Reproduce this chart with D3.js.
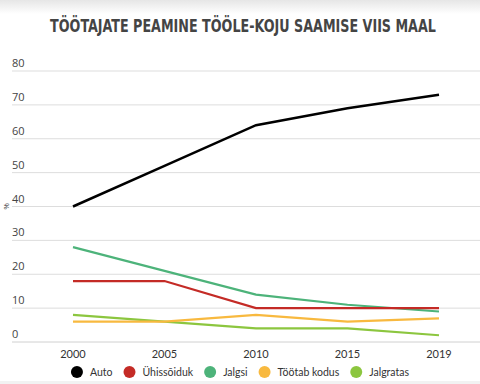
<!DOCTYPE html>
<html>
<head>
<meta charset="utf-8">
<script src="https://cdn.jsdelivr.net/npm/d3@7"></script>
<style>
  body { margin: 0; background: #fff; }
  svg { display: block; font-family: "Open Sans", sans-serif; }
</style>
</head>
<body>
<svg width="480" height="384"></svg>
<script>
"use strict";
const years = ["2000", "2005", "2010", "2015", "2019"];
const seriesNames = ["Auto", "Ühissõiduk", "Jalgsi", "Töötab kodus", "Jalgratas"];
const colors = ["#000000", "#c42b26", "#4db37a", "#f8b93f", "#8cc63f"];
const auto = [40, 52, 64, 69, 73];
const yhissoiduk = [18, 18, 10, 10, 10];
const jalgsi = [28, 21, 14, 11, 9];
const kodus = [6, 6, 8, 6, 7];
const jalgratas = [8, 6, 4, 4, 2];
const yTicks = [0, 10, 20, 30, 40, 50, 60, 70, 80];

const allSeries = [auto, yhissoiduk, jalgsi, kodus, jalgratas];

let svg = d3.select("svg"),
    width = +svg.attr("width"),
    height = +svg.attr("height");

// faint shading at top and bottom
let defs = svg.append("defs");
let grTop = defs.append("linearGradient").attr("id", "gt").attr("x1", 0).attr("y1", 0).attr("x2", 0).attr("y2", 1);
grTop.append("stop").attr("offset", "0%").attr("stop-color", "#e6e6e6");
grTop.append("stop").attr("offset", "100%").attr("stop-color", "#ffffff");
svg.append("rect").attr("width", width).attr("height", 14).attr("fill", "url(#gt)");
svg.append("rect").attr("y", 381).attr("width", width).attr("height", 3).attr("fill", "#f2f2f2");

let title = svg.append("text")
    .attr("x", 0).attr("y", 0)
    .attr("text-anchor", "middle")
    .style("font-family", "'DejaVu Sans Condensed', 'Roboto', sans-serif")
    .style("font-weight", "bold")
    .style("font-size", "18px")
    .style("fill", "#444")
    .text("TÖÖTAJATE PEAMINE TÖÖLE-KOJU SAAMISE VIIS MAAL");
// shrink to the width the title takes in the picture, stretch it taller
let tw = title.node().getComputedTextLength();
let fs = tw > 386 ? 18 * 386 / tw : 18;
title.style("font-size", fs + "px")
    .attr("transform", "translate(243,31.5) scale(1," + (17.5 / fs) + ")");

let x = d3.scalePoint().domain(years).range([73, 439]);
let y = d3.scaleLinear().domain([0, 80]).range([342, 71]);

// grid + y labels
let grid = svg.append("g");
grid.selectAll("line").data(yTicks).enter().append("line")
    .attr("x1", 12).attr("x2", width)
    .attr("y1", d => y(d)).attr("y2", d => y(d))
    .attr("stroke", d => d === 0 ? "#d0d0d0" : "#dddddd")
    .attr("stroke-width", 1);
grid.selectAll("text").data(yTicks).enter().append("text")
    .attr("x", 12).attr("y", d => y(d) - 4)
    .style("font-size", "11px").style("fill", "#444")
    .text(d => d);

svg.append("text")
    .attr("transform", "translate(9," + y(40) + ") rotate(-90)")
    .attr("text-anchor", "middle")
    .style("font-size", "8px").style("fill", "#444")
    .text("%");

// x labels
svg.append("g").selectAll("text").data(years).enter().append("text")
    .attr("x", d => x(d)).attr("y", 358)
    .attr("text-anchor", "middle")
    .style("font-family", "Lato, sans-serif")
    .style("font-size", "11px").style("fill", "#333")
    .text(d => d);

let line = d3.line()
    .x((d, i) => x(years[i]))
    .y(d => y(d));

// draw bottom series first, Auto last
svg.append("g").selectAll("path").data(allSeries.map((s, i) => ({ s, i })).reverse()).enter().append("path")
    .attr("d", d => line(d.s))
    .attr("fill", "none")
    .attr("stroke", d => colors[d.i])
    .attr("stroke-width", d => d.i === 0 ? 2.5 : 2.2);

// legend, laid out left to right and centred
let legG = svg.append("g");
let leg = legG.selectAll("g").data(seriesNames).enter().append("g");
leg.append("circle").attr("r", 6).attr("fill", (d, i) => colors[i]);
leg.append("text")
    .attr("x", 13).attr("y", 4)
    .style("font-family", "Lato, sans-serif")
    .style("font-size", "10.5px").style("fill", "#333")
    .text(d => d);
let cx = 0;
leg.each(function() {
    let g = d3.select(this);
    g.attr("transform", "translate(" + cx + ",372)");
    cx += 13 + g.select("text").node().getComputedTextLength() + 17;
});
let total = cx - 17 + 6;
legG.attr("transform", "translate(" + (240 - total / 2 + 6) + ",0)");
</script>
</body>
</html>
